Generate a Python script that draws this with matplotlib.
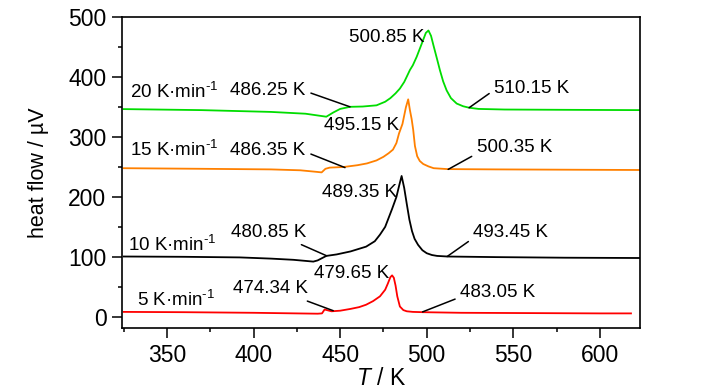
"""DSC heat flow curves at four heating rates."""

import matplotlib.pyplot as plt
from matplotlib.ticker import MultipleLocator

plt.rcParams["font.family"] = ["Liberation Sans", "DejaVu Sans"]
plt.rcParams["mathtext.fontset"] = "custom"
plt.rcParams["mathtext.rm"] = "Liberation Sans"
plt.rcParams["mathtext.it"] = "Liberation Sans:italic"

# 5 K/min
t_5 = [325, 360, 400, 437, 439.5, 441, 445, 450, 456, 461, 465, 469, 473, 476,
       477.5, 479, 480, 481, 482, 483, 484.5, 486.5, 488.5, 492, 498, 520, 560, 600, 618]
q_5 = [8, 7.5, 6.5, 5, 5.5, 12, 9, 10, 13, 16, 20, 26, 34, 45,
       55, 66, 69, 65, 52, 34, 17, 11, 9, 8, 7.5, 6.5, 6, 5.5, 5.5]

# 10 K/min
t_10 = [325, 360, 392, 410, 423, 434.5, 437, 442, 448, 456, 465, 470, 473, 476, 478,
        480, 482.5, 484, 485.5, 487, 488.5, 490, 491.5, 493, 495, 497.5, 500, 503,
        506, 512, 540, 580, 623.2]
q_10 = [100.5, 100, 99, 97, 95, 92, 94, 101.5, 104, 109, 117, 126, 137, 150, 165,
        180, 200, 218, 235, 215, 188, 162, 143, 130, 120, 111, 106, 103,
        101.5, 100.5, 99.5, 98.5, 98]

# 15 K/min
t_15 = [325, 370, 410, 427, 436, 439.3, 441.5, 444, 452, 460, 465.5, 471, 475, 478,
        480.5, 482.5, 484, 486, 488, 489.3, 490.3, 491.3, 492.2, 493.2, 494.5, 496,
        498, 501, 504, 512, 540, 580, 623.2]
q_15 = [248, 247, 246, 244.5, 242, 241, 247, 249, 250, 253, 256, 261, 267, 273,
        279, 290, 306, 322, 350, 363, 345, 330, 312, 285, 268, 260,
        255, 251, 248, 246.5, 246, 245.5, 245]

# 20 K/min
t_20 = [325, 370, 410, 430, 442, 446, 450, 455.7, 463, 471, 476, 479, 482, 484.5,
        487, 488.5, 490.3, 492, 494.2, 497, 499.5, 501, 502.5, 504, 506, 507.6,
        509.5, 511.5, 514, 517.3, 521, 524.5, 530, 545, 580, 623.2]
q_20 = [346.7, 345, 342, 339, 334, 341, 347, 350.5, 351, 353, 359, 365, 373, 381,
        392, 401, 412, 420, 434, 455, 474, 478, 469, 452, 430, 412,
        393, 378, 365, 356, 351.5, 349, 347, 346, 345.5, 345]

series = [
    (t_5, q_5, "#ff0000", r"5 K·min$^{\text{-1}}$", (332.5, 28)),
    (t_10, q_10, "#000000", r"10 K·min$^{\text{-1}}$", (327.3, 120)),
    (t_15, q_15, "#ff8000", r"15 K·min$^{\text{-1}}$", (328.6, 278)),
    (t_20, q_20, "#00dd00", r"20 K·min$^{\text{-1}}$", (328.6, 376)),
]

# label, curve point (None = no leader line), text position, ha, relpos
notes = [
    ("486.25 K", (455.7, 350.5), (430, 378), "right", (1, 0.45)),
    ("510.15 K", (524.5, 349), (539, 381.5), "left", (0, 0.4)),
    ("500.85 K", None, (476.7, 467), "center", None),
    ("495.15 K", None, (462.4, 319), "center", None),
    ("486.35 K", (452.8, 249), (430, 278), "right", (1, 0.4)),
    ("500.35 K", (512.4, 246), (529, 282.5), "left", (0, 0.15)),
    ("489.35 K", None, (461, 207.5), "center", None),
    ("480.85 K", (442.2, 101.7), (409, 141), "center", (0.81, 0)),
    ("493.45 K", (511.8, 100.5), (527, 140), "left", (0, 0.2)),
    ("479.65 K", None, (456.7, 71.5), "center", None),
    ("474.34 K", (446, 10), (409.6, 46.5), "center", (0.86, 0)),
    ("483.05 K", (497.6, 8), (519.5, 40), "left", (0, 0.25)),
]

fig = plt.figure(figsize=(7.27, 3.9), dpi=100)
ax = fig.add_axes([0.1674, 0.1582, 0.8803 - 0.1674, 0.9556 - 0.1582])

for t, q, color, label, pos in series:
    ax.plot(t, q, color=color, linewidth=1.3)
    ax.text(pos[0], pos[1], label, ha="left", va="center", fontsize=13.5)

for text, xy, xytext, ha, relpos in notes:
    if xy is None:
        ax.text(xytext[0], xytext[1], text, ha=ha, va="center", fontsize=13.5)
    else:
        ax.annotate(text, xy=xy, xytext=xytext, ha=ha, va="center", fontsize=13.5,
                    arrowprops=dict(arrowstyle="-", color="black", lw=1.1,
                                    relpos=relpos, shrinkA=2, shrinkB=0))

ax.set_xlim(323.8, 623.2)
ax.set_ylim(-19.4, 500)
ax.xaxis.set_major_locator(MultipleLocator(50))
ax.xaxis.set_minor_locator(MultipleLocator(25))
ax.yaxis.set_major_locator(MultipleLocator(100))
ax.yaxis.set_minor_locator(MultipleLocator(50))
ax.tick_params(which="major", direction="out", length=7, width=1.1, labelsize=16.5, pad=4)
ax.tick_params(which="minor", direction="out", length=3, width=1.1)
for spine in ax.spines.values():
    spine.set_linewidth(1.2)

ax.set_xlabel("$T$ / K", fontsize=16.5, labelpad=0)
ax.set_ylabel("heat flow / µV", fontsize=15.5, labelpad=14)

fig.savefig("out.png", dpi=100)
